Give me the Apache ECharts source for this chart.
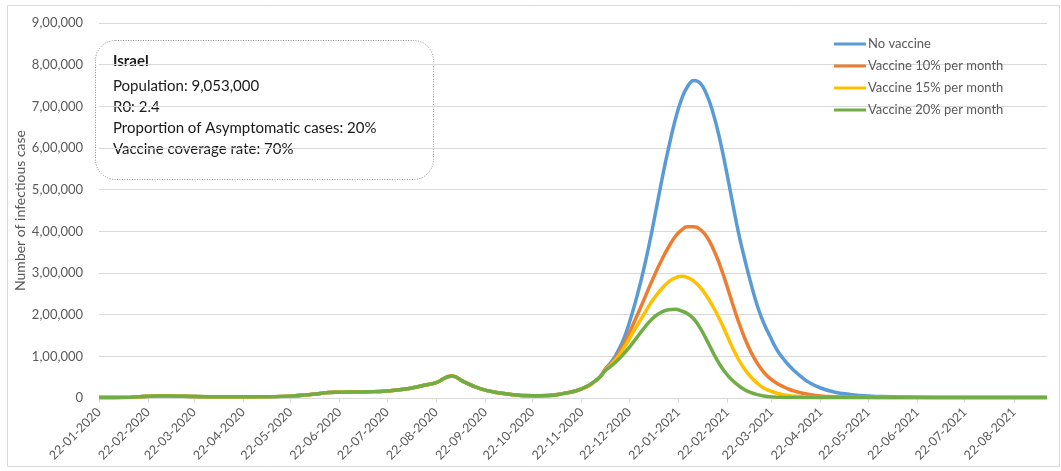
<!DOCTYPE html>
<html>
<head>
<meta charset="utf-8">
<script src="https://cdn.jsdelivr.net/npm/echarts@6/dist/echarts.min.js"></script>
<style>
  html, body { margin: 0; padding: 0; background: #fff; }
  #main { width: 1061px; height: 471px; }
</style>
</head>
<body>
<div id="main"></div>
<script>
// tick labels on the date axis
var tickLabels = ['22-01-2020','22-02-2020','22-03-2020','22-04-2020','22-05-2020','22-06-2020',
  '22-07-2020','22-08-2020','22-09-2020','22-10-2020','22-11-2020','22-12-2020',
  '22-01-2021','22-02-2021','22-03-2021','22-04-2021','22-05-2021','22-06-2021',
  '22-07-2021','22-08-2021'];

// shared part of the curve (all scenarios are the same until early Dec 2020)
var earlyDates = ['2020-01-22','2020-02-10','2020-02-28','2020-03-15','2020-04-05','2020-05-01',
  '2020-05-22','2020-06-05','2020-06-15','2020-06-22','2020-07-10','2020-07-22','2020-08-05',
  '2020-08-15','2020-08-22','2020-09-01','2020-09-08','2020-09-15','2020-09-22','2020-10-05',
  '2020-10-22','2020-11-01','2020-11-10','2020-11-22','2020-12-02'];
var earlyCases = [1000,1500,5000,4000,3000,3000,
  4500,9000,13000,14000,15000,17000,23000,
  31000,37000,53000,40000,28000,19000,10000,
  5500,6000,10500,22000,45000];

// second wave, one array per scenario
var lateDates = ['2020-12-07','2020-12-11','2020-12-15','2020-12-19','2020-12-23','2020-12-27',
  '2020-12-31','2021-01-04','2021-01-08','2021-01-12','2021-01-16','2021-01-20','2021-01-24',
  '2021-01-28','2021-02-01','2021-02-05','2021-02-09','2021-02-13','2021-02-17','2021-02-21',
  '2021-02-25','2021-03-01','2021-03-05','2021-03-09','2021-03-13','2021-03-17','2021-03-21',
  '2021-03-25','2021-03-29','2021-04-02','2021-04-06','2021-04-10','2021-04-14','2021-04-22',
  '2021-05-01','2021-05-10','2021-05-22','2021-06-05','2021-06-22','2021-07-22','2021-08-22',
  '2021-09-12'];
var noVaccine = [70000,88000,113000,146000,192000,245000,
  306000,375000,452000,530000,602000,666000,716000,
  748000,762000,755000,728000,684000,625000,553000,
  475000,398000,333000,274000,221000,180000,148000,
  118000,96000,78000,63000,50000,39000,24000,
  14000,9000,5000,3000,2000,1000,1000,
  1000];
var vaccine10 = [68000,84000,105000,132000,164000,198000,
  233000,269000,303000,335000,363000,387000,403000,
  411000,411000,404000,387000,359000,322000,278000,
  230000,184000,144000,110000,83000,62000,47000,
  36000,28000,21000,16000,12000,9000,5000,
  3000,2000,1500,1000,1000,1000,1000,
  1000];
var vaccine15 = [67000,82000,99000,122000,148000,174000,
  199000,224000,246000,264000,279000,288000,292000,
  289000,280000,265000,244000,219000,190000,157000,
  123000,93000,69000,50000,35000,24000,17000,
  12000,8000,6000,4000,3000,2000,1000,
  1000,1000,1000,1000,1000,1000,1000,
  1000];
var vaccine20 = [66000,78000,92000,108000,126000,146000,
  166000,184000,198000,207000,212000,213000,209000,
  202000,189000,167000,139000,109000,82000,60000,
  43000,30000,20000,13000,8000,5000,3000,
  2000,1500,1000,1000,1000,1000,1000,
  1000,1000,1000,1000,1000,1000,1000,
  1000];

var seriesNames = ['No vaccine','Vaccine 10% per month','Vaccine 15% per month','Vaccine 20% per month'];
var seriesColors = ['#5B9BD5','#ED7D31','#FFC000','#70AD47'];

var fontName = 'Lato, "Open Sans", sans-serif';

// timestamp (UTC) from 'DD-MM-YYYY' or 'YYYY-MM-DD'
function toTime(s) {
    var p = s.split('-');
    if (p[0].length === 4) return Date.UTC(+p[0], +p[1] - 1, +p[2]);
    return Date.UTC(+p[2], +p[1] - 1, +p[0]);
}
var tickTimes = tickLabels.map(toTime);

function buildData(late) {
    var out = [];
    earlyDates.forEach(function (d, i) { out.push([toTime(d), earlyCases[i]]); });
    lateDates.forEach(function (d, i) { out.push([toTime(d), late[i]]); });
    return out;
}
var allLate = [noVaccine, vaccine10, vaccine15, vaccine20];

var myChart = echarts.init(document.getElementById('main'));

var option = {
    animation: false,
    textStyle: { fontFamily: fontName },
    grid: { left: 99, right: 14, top: 23, bottom: 73, containLabel: false },
    legend: {
        orient: 'vertical',
        left: 834,
        top: 37,
        padding: 0,
        icon: 'rect',
        itemWidth: 32,
        itemHeight: 3,
        itemGap: 8,
        textStyle: { color: '#595959', fontSize: 13, fontFamily: fontName, lineHeight: 14, padding: [0, 0, 0, -3] },
        data: seriesNames
    },
    xAxis: {
        type: 'value',
        min: toTime('2020-01-22'),
        max: toTime('2021-09-12'),
        axisLine: { show: true, onZero: false, lineStyle: { color: '#d9d9d9', width: 1 } },
        axisTick: { show: true, customValues: tickTimes, length: 5, lineStyle: { color: '#d9d9d9' } },
        axisLabel: {
            customValues: tickTimes,
            rotate: 45,
            margin: 12,
            color: '#595959',
            fontSize: 12.5,
            fontFamily: fontName,
            formatter: function (v) {
                var i = tickTimes.indexOf(v);
                return i >= 0 ? tickLabels[i] : '';
            }
        },
        splitLine: { show: false }
    },
    yAxis: {
        type: 'value',
        min: 0,
        max: 900000,
        interval: 100000,
        name: 'Number of infectious case',
        nameLocation: 'middle',
        nameGap: 72,
        nameMoveOverlap: false,
        nameTextStyle: { color: '#595959', fontSize: 14, fontFamily: fontName },
        axisLine: { show: false },
        axisTick: { show: false },
        axisLabel: {
            color: '#595959',
            fontSize: 13,
            fontFamily: fontName,
            margin: 16,
            formatter: function (v) {
                return v === 0 ? '0' : (v / 100000) + ',00,000';
            }
        },
        splitLine: { lineStyle: { color: '#d9d9d9', width: 1 } }
    },
    graphic: [
        {
            type: 'rect',
            silent: true,
            shape: { x: 7.5, y: 5.5, width: 1052, height: 461 },
            style: { fill: 'none', stroke: '#d9d9d9', lineWidth: 1 }
        },
        {
            type: 'rect',
            silent: true,
            shape: { x: 95.5, y: 40.5, width: 338, height: 139, r: 20 },
            style: { fill: 'none', stroke: '#8c8c8c', lineWidth: 1, lineDash: [1, 1.5] }
        },
        {
            type: 'text', left: 113, top: 54,
            style: { text: 'Israel', fill: '#1a1a1a', font: 'bold 15px ' + fontName }
        },
        {
            type: 'text', left: 113, top: 76,
            style: {
                text: 'Population: 9,053,000\nR0: 2.4\nProportion of Asymptomatic cases: 20%\nVaccine coverage rate: 70%',
                fill: '#1a1a1a', font: '15px ' + fontName, lineHeight: 21
            }
        }
    ],
    series: seriesNames.map(function (name, k) {
        return {
            name: name,
            type: 'line',
            symbol: 'none',
            smooth: 0.5,
            color: seriesColors[k],
            lineStyle: { width: 3.5, color: seriesColors[k] },
            data: buildData(allLate[k])
        };
    })
};

myChart.setOption(option);
</script>
</body>
</html>
